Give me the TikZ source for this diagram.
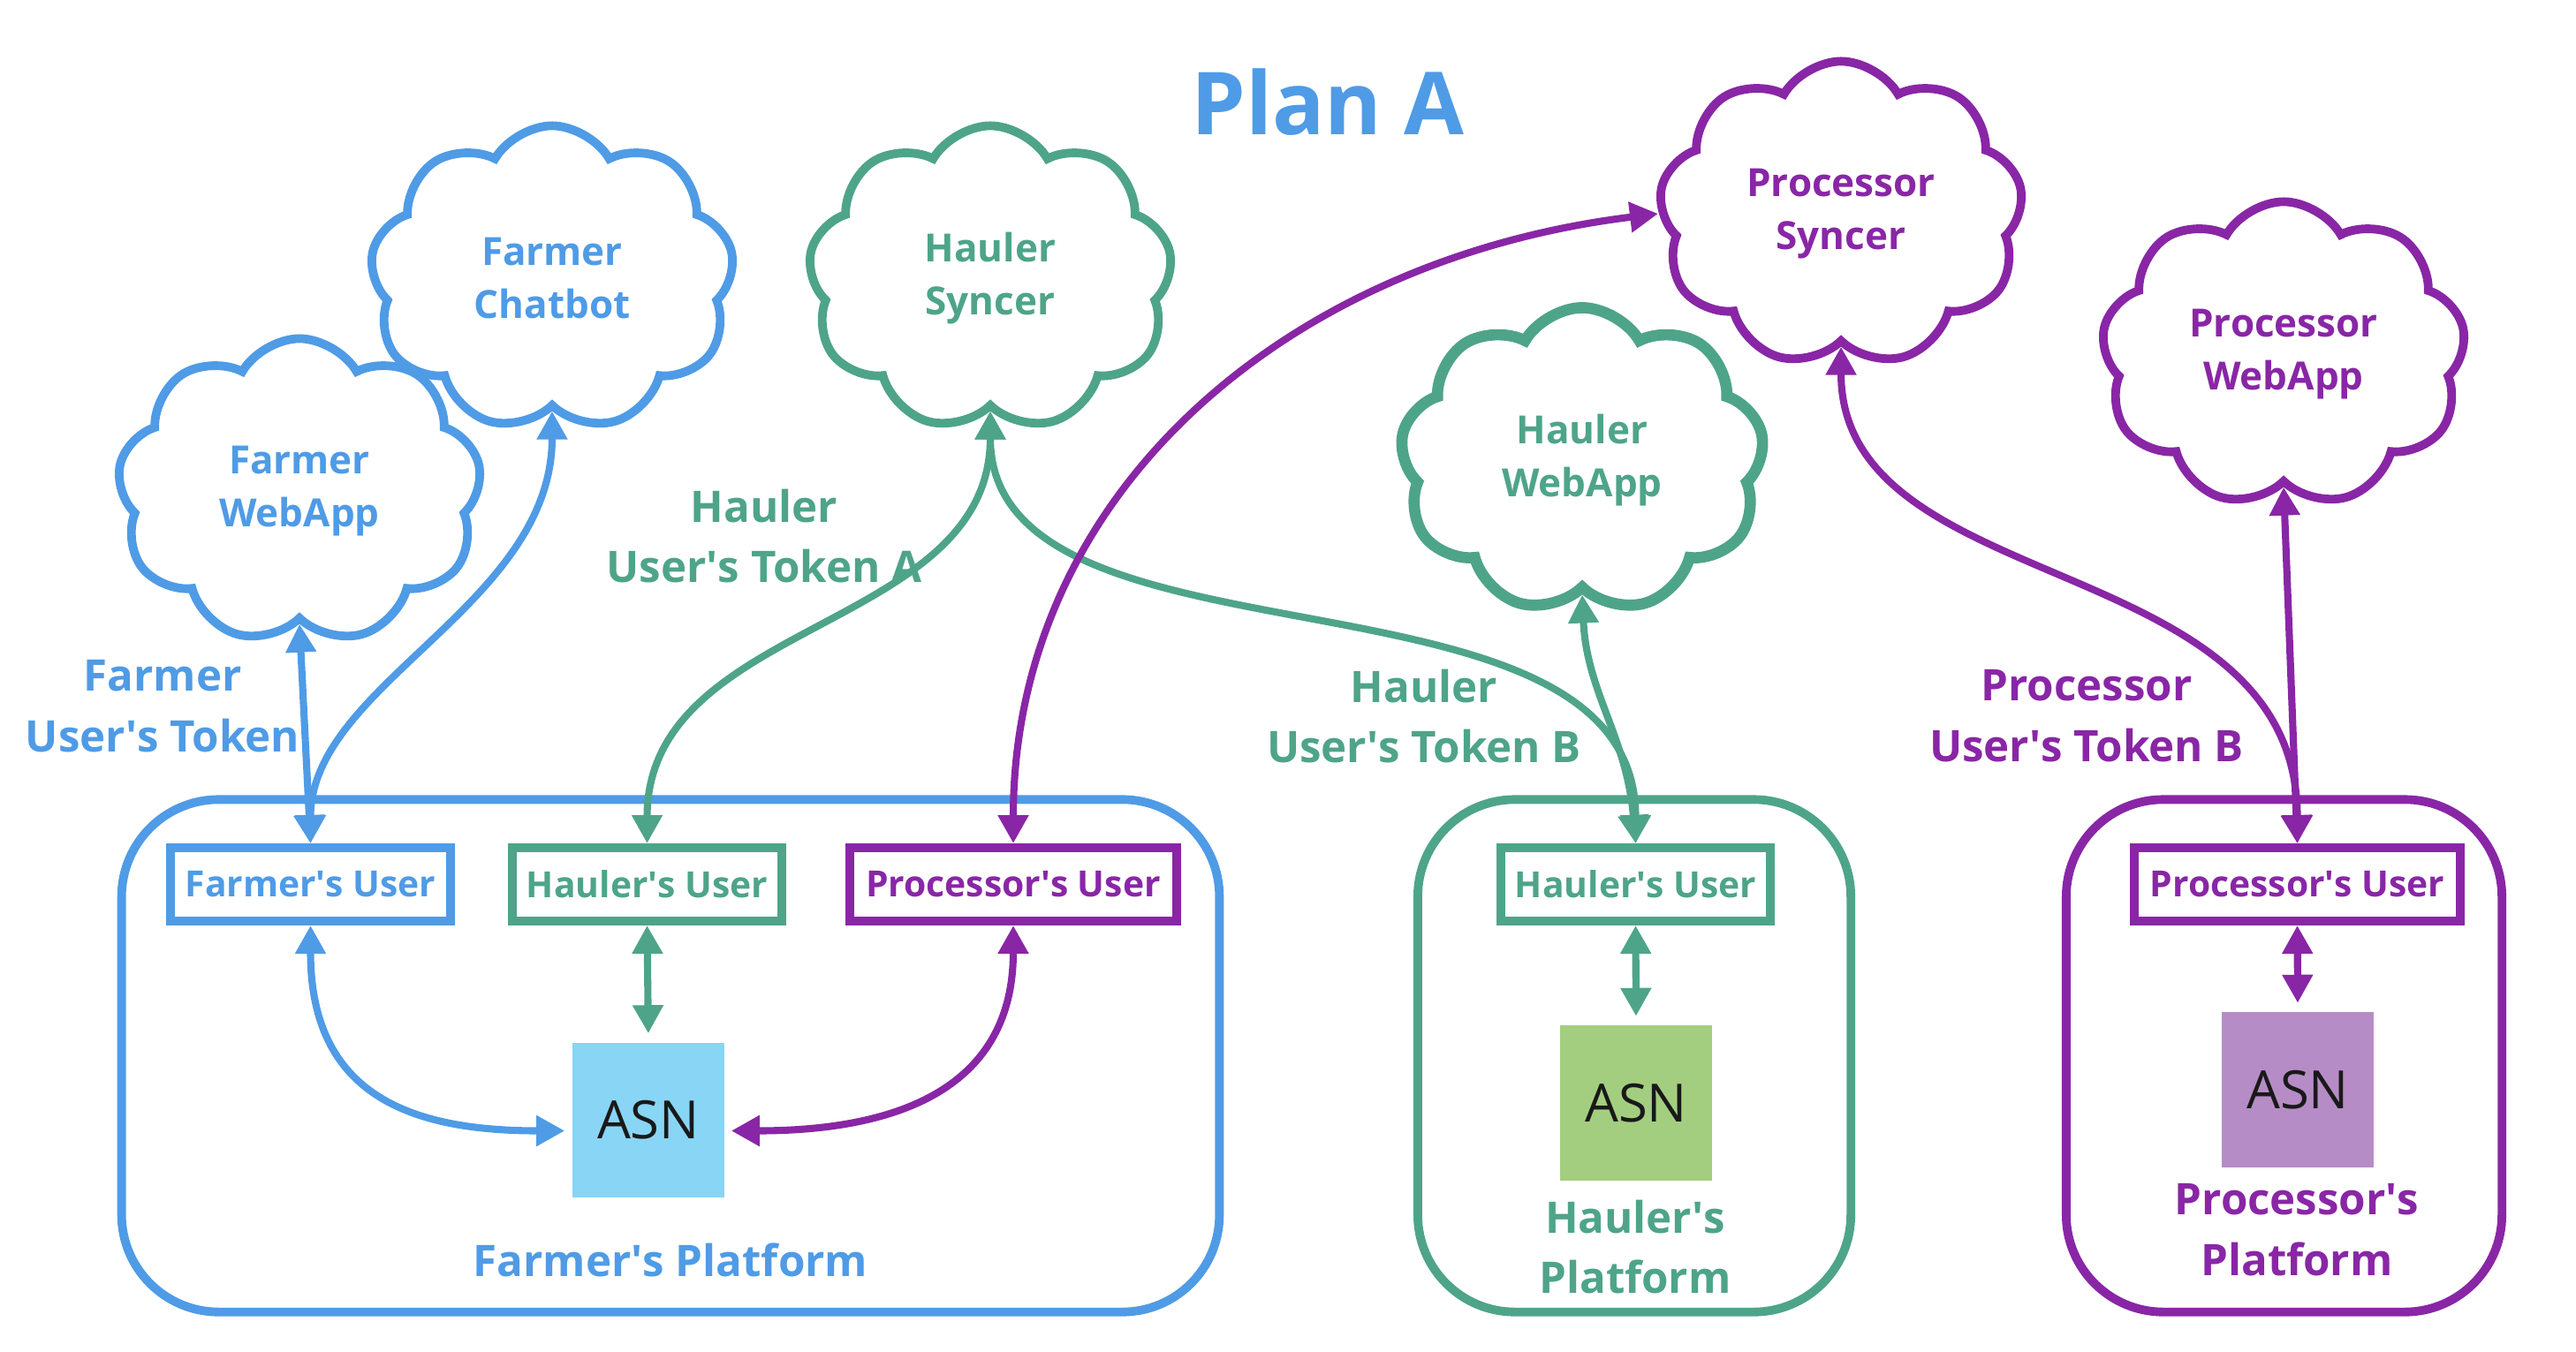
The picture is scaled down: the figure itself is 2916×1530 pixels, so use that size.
\documentclass[tikz,border=0pt]{standalone}
\usepackage{fontspec}
\setmainfont{Open Sans}
\usetikzlibrary{shapes.symbols,arrows.meta,calc}
\definecolor{fblue}{RGB}{79,155,230}
\definecolor{hgreen}{RGB}{78,164,137}
\definecolor{ppurple}{RGB}{137,38,166}
\definecolor{asnblue}{RGB}{137,213,245}
\definecolor{asngreen}{RGB}{163,206,128}
\definecolor{asnpurple}{RGB}{182,140,198}
\begin{document}
\begin{tikzpicture}[x=0.01cm,y=-0.01cm,
  platform/.style={draw, line width=2.8pt, rounded corners=1.1cm, minimum height=5.8cm, inner sep=0pt},
  userbox/.style={draw, line width=2.8pt, minimum height=0.83cm, inner sep=0pt, font=\fontsize{11.6}{14}\selectfont\bfseries},
  cloudnode/.style={cloud, cloud puffs=9, cloud puff arc=120, cloud ignores aspect, draw, fill=white, line width=2.8pt, minimum width=4.12cm, minimum height=3.45cm, inner sep=0pt, align=center, font=\fontsize{12.5}{17}\selectfont\bfseries},
  asnnote/.style={minimum width=1.72cm, minimum height=1.75cm, inner sep=0pt, text=black!90, font=\fontsize{17}{20}\selectfont},
  lbl/.style={align=center, inner sep=0pt, font=\fontsize{14}{19.6}\selectfont\bfseries},
  conn/.style={line width=2.3pt, arrows={Triangle[length=0.32cm,width=0.33cm]-Triangle[length=0.32cm,width=0.33cm]}}
]
\useasboundingbox (0,0) rectangle (2916,1530);

% title
\node[anchor=base, inner sep=0pt, text=fblue, font=\fontsize{28}{34}\selectfont\bfseries] (title) at (1503,152) {Plan A};

% platforms
\node[platform, draw=fblue, minimum width=12.42cm] (fp) at (759,1195.5) {};
\node[platform, draw=hgreen, minimum width=4.90cm] (hp) at (1850,1195.5) {};
\node[platform, draw=ppurple, minimum width=4.93cm] (pp) at (2585.5,1195.5) {};

% user boxes
\node[userbox, draw=fblue, text=fblue, minimum width=3.17cm] (fu) at (351.5,1001.5) {Farmer\textquotesingle s User};
\node[userbox, draw=hgreen, text=hgreen, minimum width=3.05cm] (hu1) at (732.5,1001.5) {Hauler\textquotesingle s User};
\node[userbox, draw=ppurple, text=ppurple, minimum width=3.70cm] (pu1) at (1147,1001.5) {Processor\textquotesingle s User};
\node[userbox, draw=hgreen, text=hgreen, minimum width=3.05cm] (hu2) at (1851.5,1001.5) {Hauler\textquotesingle s User};
\node[userbox, draw=ppurple, text=ppurple, minimum width=3.69cm] (pu2) at (2600.5,1001.5) {Processor\textquotesingle s User};

% ASN notes
\node[asnnote, fill=asnblue] (asn1) at (734,1268.5) {ASN};
\node[asnnote, fill=asngreen] (asn2) at (1852,1249) {ASN};
\node[asnnote, fill=asnpurple] (asn3) at (2601,1234) {ASN};

% platform labels
\node[lbl, text=fblue] (fpl) at (759,1427) {Farmer\textquotesingle s Platform};
\node[lbl, text=hgreen] (hpl) at (1851,1412) {Hauler\textquotesingle s\\Platform};
\node[lbl, text=ppurple] (ppl) at (2600,1393) {Processor\textquotesingle s\\Platform};

% clouds
\node[cloudnode, draw=fblue, text=fblue] (fwa) at (339,556) {Farmer\\WebApp};
\node[cloudnode, draw=fblue, text=fblue] (fcb) at (625,315) {Farmer\\Chatbot};
\node[cloudnode, draw=hgreen, text=hgreen] (hsy) at (1121,315) {Hauler\\Syncer};
\node[cloudnode, draw=hgreen, text=hgreen, line width=3.6pt] (hwa) at (1791,521) {Hauler\\WebApp};
\node[cloudnode, draw=ppurple, text=ppurple] (psy) at (2084,242) {Processor\\Syncer};
\node[cloudnode, draw=ppurple, text=ppurple] (pwa) at (2585,401) {Processor\\WebApp};

% edge labels
\node[lbl, text=fblue] (lf) at (184,800) {Farmer\\User\textquotesingle s Token};
\node[lbl, text=hgreen] (lha) at (865,607) {Hauler\\User\textquotesingle s Token A};
\node[lbl, text=hgreen] (lhb) at (1612,811) {Hauler\\User\textquotesingle s Token B};
\node[lbl, text=ppurple] (lpb) at (2362,811) {Processor\\User\textquotesingle s Token B};

% connectors to clouds
\draw[conn, fblue] (fu.north) -- (fwa.south);
\draw[conn, fblue] (fu.north) .. controls ($(fu.north)+(0,-180)$) and ($(fcb.south)+(0,220)$) .. (fcb.south);
\draw[conn, hgreen] (hu1.north) .. controls ($(hu1.north)+(0,-255)$) and ($(hsy.south)+(0,250)$) .. (hsy.south);
\draw[conn, hgreen] (hu2.north) .. controls ($(hu2.north)+(0,-335)$) and ($(hsy.south)+(0,310)$) .. (hsy.south);
\draw[conn, hgreen] (hu2.north) .. controls ($(hu2.north)+(-10,-120)$) and ($(hwa.south)+(5,110)$) .. (hwa.south);
\draw[conn, ppurple] (pu1.north) .. controls ($(pu1.north)+(0,-395)$) and ($(psy.west)+(-423,52)$) .. (psy.west);
\draw[conn, ppurple] (pu2.north) .. controls ($(pu2.north)+(0,-335)$) and ($(psy.south)+(0,287)$) .. (psy.south);
\draw[conn, ppurple] (pu2.north) -- (pwa.south);

% connectors inside platforms
\coordinate (a1w) at ($(asn1.west)+(-8,12)$);
\coordinate (a1e) at ($(asn1.east)+(7,12)$);
\draw[conn, fblue] (fu.south) .. controls ($(fu.south)+(0,192)$) and ($(a1w)+(-175,0)$) .. (a1w);
\draw[conn, ppurple] (pu1.south) .. controls ($(pu1.south)+(0,192)$) and ($(a1e)+(175,0)$) .. (a1e);
\draw[conn, hgreen, shorten >=0.1cm] (hu1.south) -- (asn1.north);
\draw[conn, hgreen, shorten >=0.1cm] (hu2.south) -- (asn2.north);
\draw[conn, ppurple, shorten >=0.1cm] (pu2.south) -- (asn3.north);
\end{tikzpicture}
\end{document}
